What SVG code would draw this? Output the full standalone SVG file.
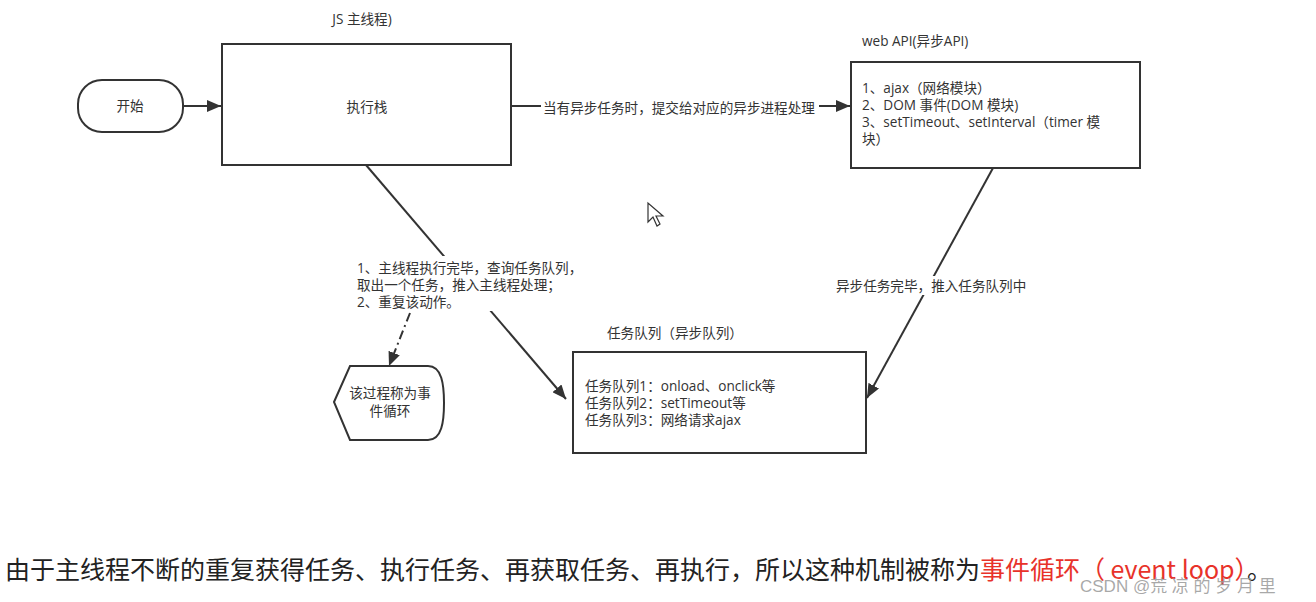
<svg xmlns="http://www.w3.org/2000/svg" width="1316" height="602" viewBox="0 0 1316 602">
<style>
  .box { fill: #ffffff; stroke: #333333; stroke-width: 2; }
  .t { font-family: "Open Sans", "Noto Sans CJK SC", sans-serif; font-size: 13.6px; fill: #333333; }
  .c { text-anchor: middle; }
  .edge { fill: none; stroke: #333333; stroke-width: 2; }
  .bg { fill: #ffffff; stroke: none; }
  .big { font-family: "Noto Sans CJK SC", sans-serif; font-size: 25px; fill: #222222; }
</style>
<defs>
  <marker id="arr" markerUnits="userSpaceOnUse" markerWidth="16" markerHeight="12" refX="14" refY="6" orient="auto">
    <path d="M0,0 L14,6 L0,12 Z" fill="#333333"/>
  </marker>
</defs>
<rect width="1316" height="602" fill="#ffffff"/>

<g id="connectors">
  <line class="edge" x1="183" y1="106" x2="221" y2="106" marker-end="url(#arr)"/>
  <line class="edge" x1="511" y1="106" x2="850" y2="106" marker-end="url(#arr)"/>
  <rect class="bg" x="541" y="98" width="278" height="19"/>
  <text class="t" x="543" y="113">当有异步任务时，提交给对应的异步进程处理</text>

  <line class="edge" x1="993" y1="168" x2="867" y2="398" marker-end="url(#arr)"/>
  <rect class="bg" x="834" y="276" width="194" height="19"/>
  <text class="t" x="836" y="291">异步任务完毕，推入任务队列中</text>

  <line class="edge" x1="366" y1="165" x2="566" y2="399" marker-end="url(#arr)"/>
  <rect class="bg" x="352" y="256" width="232" height="55"/>
  <text class="t" x="357" y="273">1、主线程执行完毕，查询任务队列，</text>
  <text class="t" x="357" y="290">取出一个任务，推入主线程处理；</text>
  <text class="t" x="357" y="307">2、重复该动作。</text>

  <line class="edge" x1="410" y1="313" x2="389" y2="366" stroke-dasharray="9 4 2 4" marker-end="url(#arr)"/>
</g>

<g id="start">
  <rect class="box" x="78" y="80" width="105" height="52" rx="24"/>
  <text class="t c" x="130" y="111">开始</text>
</g>

<g id="main-thread">
  <text class="t c" x="362" y="24">JS 主线程)</text>
  <rect class="box" x="222" y="44" width="289" height="121"/>
  <text class="t c" x="367" y="112">执行栈</text>
</g>

<g id="web-api">
  <text class="t" x="862" y="46">web API(异步API)</text>
  <rect class="box" x="851" y="62" width="289" height="106"/>
  <text class="t" x="862" y="93">1、ajax（网络模块）</text>
  <text class="t" x="862" y="110">2、DOM 事件(DOM 模块)</text>
  <text class="t" x="862" y="127">3、setTimeout、setInterval（timer 模</text>
  <text class="t" x="862" y="144">块）</text>
</g>

<g id="task-queue">
  <text class="t" x="607" y="338">任务队列（异步队列）</text>
  <rect class="box" x="573" y="352" width="293" height="101"/>
  <text class="t" x="585" y="391">任务队列1：onload、onclick等</text>
  <text class="t" x="585" y="408">任务队列2：setTimeout等</text>
  <text class="t" x="585" y="425">任务队列3：网络请求ajax</text>
</g>

<g id="event-loop">
  <path class="box" d="M334,402 L350,366 L428,366 C442,366 444,385 444,403 C444,421 442,440 428,440 L350,440 Z"/>
  <text class="t c" x="390" y="398">该过程称为事</text>
  <text class="t c" x="390" y="416">件循环</text>
</g>

<path d="M648,203 L648,222 L653,217 L657,226 L660,224 L656,216 L663,216 Z" fill="#ffffff" stroke="#333333" stroke-width="1.2"/>

<text class="big" x="5" y="579">由于主线程不断的重复获得任务、执行任务、再获取任务、再执行，所以这种机制被称为<tspan fill="#e8322a">事件循环（ event loop）</tspan>。</text>
<text x="1080" y="592" font-family="Liberation Sans, Noto Sans CJK SC, sans-serif" font-size="17" fill="#999999" fill-opacity="0.85">CSDN @荒 凉 的 岁 月 里</text>
</svg>
